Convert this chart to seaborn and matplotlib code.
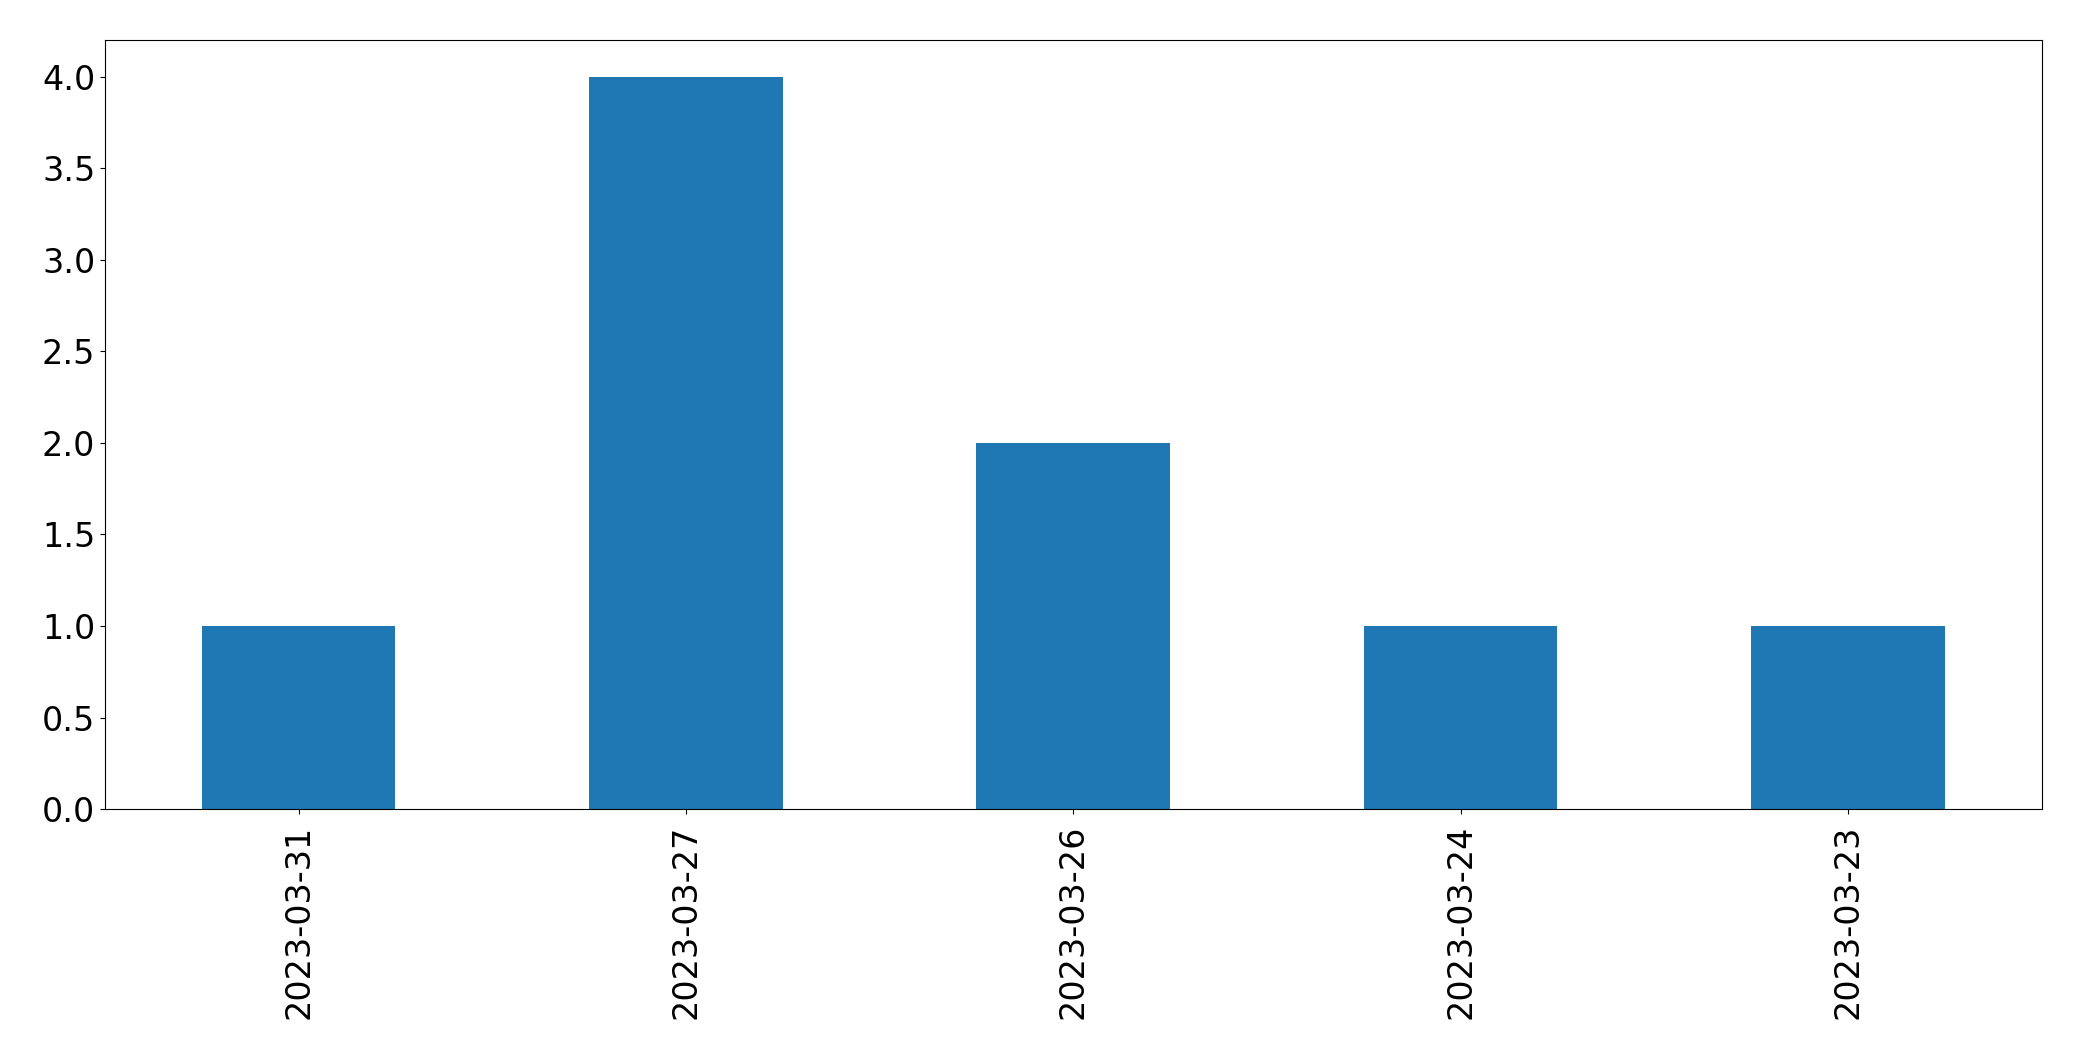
import pandas as pd
import numpy as np
import matplotlib
matplotlib.use("Agg")
import matplotlib.pyplot as plt
import seaborn as sns

# counts per date (order as shown)
dates = ["2023-03-31", "2023-03-27", "2023-03-26", "2023-03-24", "2023-03-23"]
counts = [1, 4, 2, 1, 1]

df = pd.DataFrame({"date": dates, "count": counts})

fig = plt.figure(figsize=(20.82, 10.61), dpi=100)
ax = fig.add_axes([0.0504, 0.2375, 0.9302, 0.7245])

sns.barplot(x="date", y="count", data=df, order=dates, color="#1f77b4",
            saturation=1, width=0.5, ax=ax)

ax.set_xlim(-0.5, 4.5)
ax.set_ylim(0, 4.2)
ax.set_yticks(np.arange(0, 4.01, 0.5))
ax.set_xlabel("")
ax.set_ylabel("")
ax.tick_params(axis="both", labelsize=24)
ax.tick_params(axis="x", pad=8)
plt.setp(ax.get_xticklabels(), rotation=90)

fig.savefig("out.png", dpi=100)
